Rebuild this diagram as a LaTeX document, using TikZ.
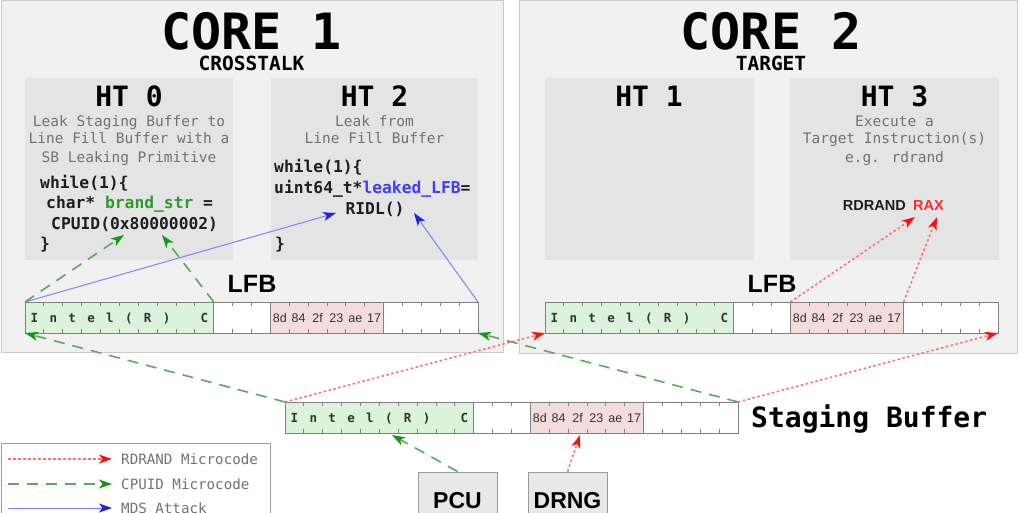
\documentclass[tikz,border=0pt]{standalone}
\usepackage{fontspec}
\setmainfont{DejaVu Sans Mono}
\newfontfamily\monof{DejaVu Sans Mono}
\newfontfamily\sansf{Liberation Sans}
\usetikzlibrary{arrows.meta}
\definecolor{corebg}{HTML}{F1F1F1}
\definecolor{coreline}{HTML}{CACACA}
\definecolor{htbg}{HTML}{E4E4E4}
\definecolor{desccol}{HTML}{727272}
\definecolor{codecol}{HTML}{1E1E1E}
\definecolor{codegreen}{HTML}{2E9A2E}
\definecolor{codeblue}{HTML}{3D3DFF}
\definecolor{raxred}{HTML}{FF2A2A}
\definecolor{cellg}{HTML}{DAF3DA}
\definecolor{cellp}{HTML}{F5DCDC}
\definecolor{segline}{HTML}{808080}
\definecolor{celltext}{HTML}{333333}
\definecolor{unitbg}{HTML}{E8E8E8}
\definecolor{unitline}{HTML}{9A9A9A}
\definecolor{redline}{HTML}{FF7070}
\definecolor{redhead}{HTML}{FF1010}
\definecolor{greenline}{HTML}{5AAA5A}
\definecolor{greenhead}{HTML}{139913}
\definecolor{blueline}{HTML}{8080FF}
\definecolor{bluehead}{HTML}{2020E0}
\newcommand{\myfs}[1]{\fontsize{#1}{#1}\selectfont}
\newcommand{\drawbuf}[3]{%
  \node[seg,fill=cellg,minimum width=188.75pt] (#1g) at (#2,#3) {};
  \node[seg,fill=white,minimum width=56.625pt] (#1w) at (#1g.north east) {};
  \node[seg,fill=cellp,minimum width=113.25pt] (#1p) at (#1w.north east) {};
  \node[seg,fill=white,minimum width=94.375pt] (#1x) at (#1p.north east) {};
  \foreach \i in {1,...,23}{
    \draw[tick] ([xshift=\i*18.875pt]#1g.north west) -- ++(0,4);
    \draw[tick] ([xshift=\i*18.875pt]#1g.south west) -- ++(0,-4);
  }
  \foreach \c [count=\i] in {I,n,t,e,l,{(},R,{)},{},C}{
    \node[celltxt] (#1c\i) at ([xshift=(\i-0.5)*18.875pt,yshift=-4.5pt]#1g.west) {\c};
  }
  \foreach \b [count=\i] in {8d,84,2f,23,ae,17}{
    \node[bytetxt] (#1b\i) at ([xshift=(\i-0.5)*18.875pt,yshift=-4.5pt]#1p.west) {\b};
  }
}
\begin{document}
\begin{tikzpicture}[x=1pt,y=-1pt,
  corebox/.style={draw=coreline,fill=corebg,line width=0.8pt,inner sep=0pt,anchor=north west},
  htbox/.style={fill=htbg,inner sep=0pt,anchor=north west},
  bigtitle/.style={font=\monof\bfseries\myfs{50},anchor=base,inner sep=0pt},
  subtitle/.style={font=\monof\bfseries\myfs{19.5},anchor=base,inner sep=0pt},
  httitle/.style={font=\monof\bfseries\myfs{28},anchor=base,inner sep=0pt},
  desc/.style={font=\monof\myfs{14.5},text=desccol,anchor=base,inner sep=0pt},
  code/.style={font=\monof\bfseries\myfs{16.3},text=codecol,anchor=base west,inner sep=0pt},
  lfb/.style={font=\sansf\bfseries\myfs{25},anchor=base,inner sep=0pt},
  seg/.style={draw=segline,line width=1pt,minimum height=31pt,inner sep=0pt,outer sep=0pt,anchor=north west},
  tick/.style={draw=segline,line width=0.8pt},
  celltxt/.style={font=\monof\bfseries\myfs{12.5},text=celltext,inner sep=0pt,anchor=base},
  bytetxt/.style={font=\sansf\myfs{12.5},text=celltext,inner sep=0pt,anchor=base},
  unit/.style={draw=unitline,fill=unitbg,line width=1pt,minimum width=79pt,minimum height=58pt,font=\sansf\bfseries\myfs{23},inner sep=0pt},
  legtxt/.style={font=\monof\myfs{14.2},text=desccol,anchor=west,inner sep=0pt},
  rdr/.style={draw=redline,line width=1.6pt,dash pattern=on 2.5pt off 2.5pt,-{Stealth[length=13pt,width=9pt,inset=3.5pt,color=redhead]}},
  cpu/.style={draw=greenline,line width=1.6pt,dash pattern=on 11pt off 8pt,-{Stealth[length=13pt,width=9pt,inset=3.5pt,color=greenhead]}},
  mds/.style={draw=blueline,line width=1pt,-{Stealth[length=13pt,width=9pt,inset=3.5pt,color=bluehead]}},
]
\clip (0,0) rectangle (1024,512);
\fill[white] (0,0) rectangle (1024,512);

% cores
\node[corebox,minimum width=502pt,minimum height=352pt] (core1) at (1,0) {};
\node[corebox,minimum width=498pt,minimum height=353pt] (core2) at (519,0) {};
\node[bigtitle] (c1t) at (251.5,49) {CORE 1};
\node[subtitle] (c1s) at (251.5,70) {CROSSTALK};
\node[bigtitle] (c2t) at (771,49) {CORE 2};
\node[subtitle] (c2s) at (771,70) {TARGET};

% hyperthreads
\node[htbox,minimum width=208pt,minimum height=182pt] (ht0) at (25,78) {};
\node[htbox,minimum width=207pt,minimum height=182pt] (ht2) at (271,78) {};
\node[htbox,minimum width=209pt,minimum height=182pt] (ht1) at (545,78) {};
\node[htbox,minimum width=209pt,minimum height=182pt] (ht3) at (790,78) {};
\node[httitle] (ht0t) at (129,106) {HT 0};
\node[httitle] (ht2t) at (374.5,106) {HT 2};
\node[httitle] (ht1t) at (649,106) {HT 1};
\node[httitle] (ht3t) at (894.5,106) {HT 3};

\node[desc] (d0a) at (129,126.5) {Leak Staging Buffer to};
\node[desc] (d0b) at (129,143.5) {Line Fill Buffer with a};
\node[desc] (d0c) at (129,162) {SB Leaking Primitive};
\node[desc] (d2a) at (374.5,126.5) {Leak from};
\node[desc] (d2b) at (374.5,143.5) {Line Fill Buffer};
\node[desc] (d3a) at (894.5,126.5) {Execute a};
\node[desc] (d3b) at (894.5,143.5) {Target Instruction(s)};
\node[desc] (d3c) at (894.5,162) {e.g. rdrand};

\node[code] (k0a) at (40,188) {while(1)\{};
\node[code] (k0b) at (46,208) {char* {\color{codegreen}brand\_str} =};
\node[code] (k0c) at (51,229) {CPUID(0x80000002)};
\node[code] (k0d) at (40,249) {\}};
\node[code] (k2a) at (274,172) {while(1)\{};
\node[code] (k2b) at (274,193) {uint64\_t*{\color{codeblue}leaked\_LFB}=};
\node[code,anchor=base] (ridl) at (375,214) {RIDL()};
\node[code] (k2d) at (275,249) {\}};

\node[font=\sansf\bfseries\myfs{14.5},text=codecol,anchor=base east,inner sep=0pt] (rdrand) at (906,210) {RDRAND};
\node[font=\sansf\bfseries\myfs{14.5},text=raxred,anchor=base west,inner sep=0pt] (rax) at (913,210) {RAX};

% LFB labels and buffers
\node[lfb] (lfb1t) at (252,292) {LFB};
\node[lfb] (lfb2t) at (772,292) {LFB};
\drawbuf{la}{25}{302}
\drawbuf{lb}{545}{302}
\drawbuf{sb}{285}{402}
\node[font=\monof\bfseries\myfs{28},anchor=base west,inner sep=0pt] (sbt) at (751,427) {Staging Buffer};

% units
\node[unit] (pcu) at (457.5,501) {PCU};
\node[unit] (drng) at (567.5,501) {DRNG};

% legend
\node[draw=unitline,fill=white,line width=1pt,anchor=north west,minimum width=269pt,minimum height=90pt,inner sep=0pt] (legend) at (1,443) {};
\node[legtxt] (lt1) at (121,459) {RDRAND Microcode};
\node[legtxt] (lt2) at (121,484) {CPUID Microcode};
\node[legtxt] (lt3) at (121,508) {MDS Attack};
\coordinate (ls1) at (8,459);
\coordinate (ls2) at (8,484);
\coordinate (ls3) at (8,508);
\draw[rdr] (ls1) -- ([xshift=-9pt]lt1.west);
\draw[cpu] (ls2) -- ([xshift=-9pt]lt2.west);
\draw[mds] (ls3) -- ([xshift=-9pt]lt3.west);

% arrow targets
\coordinate (cpuA) at (124,235);
\coordinate (cpuB) at (162,235);
\coordinate (ridlL) at (336,213);
\coordinate (ridlR) at (414,213);
\coordinate (raxA) at (915,217);
\coordinate (raxB) at (937,217);
\coordinate (sbG) at (392,435);
\coordinate (sbP) at (580,435);

% MDS attack
\draw[mds] (lag.north west) -- (ridlL);
\draw[mds] (lax.north east) -- (ridlR);
% CPUID microcode
\draw[cpu] (lag.north west) -- (cpuA);
\draw[cpu] (law.north west) -- (cpuB);
\draw[cpu] (sbg.north west) -- (lag.south west);
\draw[cpu] (sbx.north east) -- (lax.south east);
\draw[cpu] (pcu.north) -- (sbG);
% RDRAND microcode
\draw[rdr] (sbg.north west) -- (lbg.south west);
\draw[rdr] (sbx.north east) -- (lbx.south east);
\draw[rdr] (drng.north) -- (sbP);
\draw[rdr] (lbp.north west) -- (raxA);
\draw[rdr] (lbp.north east) -- (raxB);
\end{tikzpicture}
\end{document}
